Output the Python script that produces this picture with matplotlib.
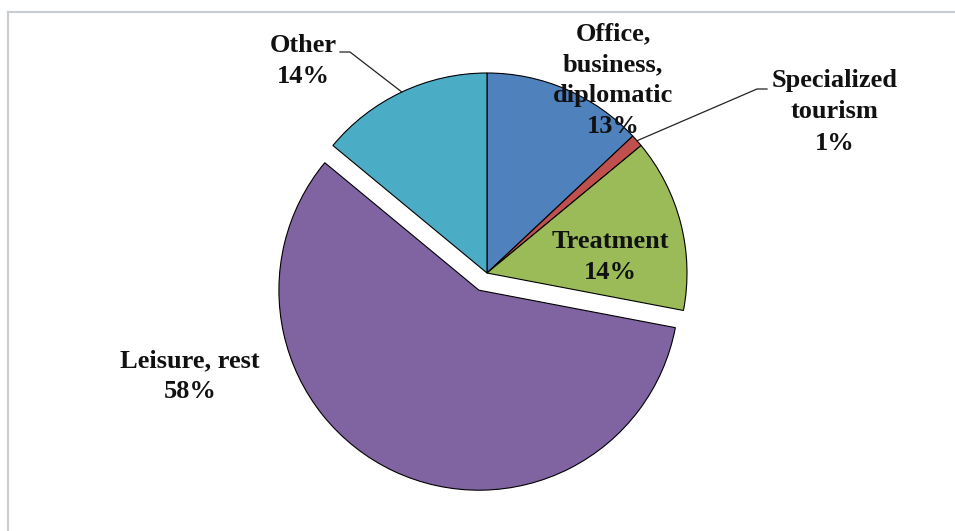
import numpy as np
import matplotlib
matplotlib.use("Agg")
import matplotlib.pyplot as plt
from matplotlib.lines import Line2D

categories = ["Office,\nbusiness,\ndiplomatic", "Specialized\ntourism", "Treatment", "Leisure, rest", "Other"]
values = [13, 1, 14, 58, 14]
colors = ["#4F81BD", "#C0504D", "#9BBB59", "#8064A2", "#4BACC6"]
explode = [0, 0, 0, 0.095, 0]

W, H = 955, 531
fig = plt.figure(figsize=(W / 100, H / 100), dpi=100)
ax = fig.add_axes([0, 0, 1, 1])
R = 200.0
cx, cy = 487.0, 273.0

wedges, _ = ax.pie(values, colors=colors, startangle=90, counterclock=False,
                   explode=explode, radius=1.0,
                   wedgeprops=dict(edgecolor="black", linewidth=0.8))
ax.set_aspect("auto")
ax.set_xlim(-cx / R, (W - cx) / R)
ax.set_ylim(-(H - cy) / R, cy / R)
ax.axis("off")

def px(x, y):
    return ((x - cx) / R, (cy - y) / R)

font = dict(family=["Liberation Serif", "DejaVu Serif"], fontweight="bold",
            fontsize=19, color="#111111", ha="center", va="center", linespacing=1.45)

labels = [f"{c}\n{v}%" for c, v in zip(categories, values)]
pos = [px(613, 80), px(835, 112), px(610, 257), px(190, 376), px(303, 61)]
for lab, p in zip(labels, pos):
    ax.text(p[0], p[1], lab, **font)

def edge_point(w):
    ang = np.deg2rad((w.theta1 + w.theta2) / 2)
    c = w.center
    return (c[0] + w.r * np.cos(ang), c[1] + w.r * np.sin(ang))

# leader lines
e_other = edge_point(wedges[4])
a, b = px(340, 52), px(350, 52)
ax.plot([a[0], b[0], e_other[0]], [a[1], b[1], e_other[1]], color="#222222", lw=0.9)
e_spec = edge_point(wedges[1])
a, b = px(767, 89), px(757, 89)
ax.plot([a[0], b[0], e_spec[0]], [a[1], b[1], e_spec[1]], color="#222222", lw=0.9)

# light frame (partially cropped)
fig.add_artist(Line2D([8 / W, 1], [1 - 12 / H, 1 - 12 / H], color="#c8cdd2", lw=1.5))
fig.add_artist(Line2D([8 / W, 8 / W], [0, 1 - 12 / H], color="#c8cdd2", lw=1.5))

fig.savefig("out.png", dpi=100, facecolor="white")
